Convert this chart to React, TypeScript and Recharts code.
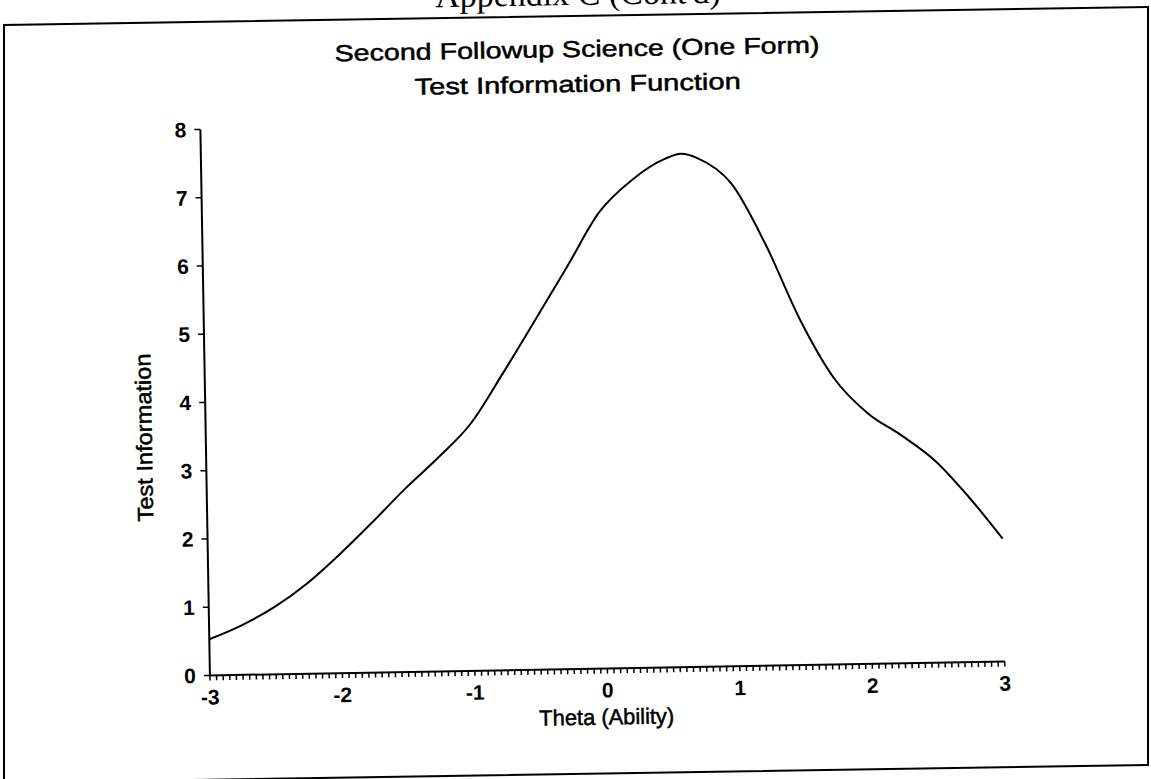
import { Line, LineChart, XAxis, YAxis } from 'recharts'

// theta (ability) and test information
const thetaValues = [
  -3, -2.75, -2.5, -2.25, -2, -1.75, -1.5, -1.25, -1, -0.75, -0.5, -0.25, 0,
  0.25, 0.5, 0.625, 0.75, 1, 1.25, 1.5, 1.75, 2, 2.25, 2.5, 2.75, 3,
]
const informationValues = [
  0.53, 0.73, 0.99, 1.33, 1.75, 2.21, 2.69, 3.13, 3.62, 4.35, 5.12, 5.9, 6.69,
  7.15, 7.45, 7.52, 7.45, 7.07, 6.17, 5.06, 4.19, 3.67, 3.34, 2.96, 2.42, 1.8,
]
const xTickLabels = [-3, -2, -1, 0, 1, 2, 3]
const yTickLabels = [0, 1, 2, 3, 4, 5, 6, 7, 8]

const chartData = thetaValues.map((theta, i) => ({ theta, info: informationValues[i] }))
// small ticks every 0.05 along the theta axis
const minorTicks = Array.from({ length: 121 }, (_, i) => Math.round((-3 + i * 0.05) * 100) / 100)

const SANS = '"Liberation Sans", Arial, sans-serif'

function ThetaTick(props: any) {
  const { x, y, payload } = props
  if (!xTickLabels.includes(payload.value)) return <g />
  return (
    <text x={x} y={y} dy={22} textAnchor="middle" fill="#000" fontSize={21} fontWeight="bold" fontFamily={SANS}>
      {payload.value}
    </text>
  )
}

export default function App() {
  return (
    <div style={{ position: 'absolute', left: 0, top: 0, width: 1151, height: 779, overflow: 'hidden', background: '#fff' }}>
      {/* page frame and running head, skewed like the scan */}
      <svg width={1151} height={779} style={{ position: 'absolute', left: 0, top: 0 }}>
        <g transform="translate(575 390) skewY(-0.9) translate(-575 -390)">
          <text x={578} y={5} textAnchor="middle" fontSize={34} fontFamily='"Liberation Serif", "Times New Roman", serif' fill="#000">
            Appendix C (Cont'd)
          </text>
          <rect x={4} y={16} width={1144} height={758} fill="none" stroke="#000" strokeWidth={2} />
        </g>
      </svg>

      <div style={{ position: 'absolute', left: 0, top: 0, width: 1151, height: 779, transform: 'rotate(-1deg)', transformOrigin: '575px 390px' }}>
        <LineChart width={1151} height={779} data={chartData} margin={{ top: 123, right: 151, bottom: 70, left: 145 }}>
          <XAxis
            dataKey="theta"
            type="number"
            domain={[-3, 3]}
            ticks={minorTicks}
            interval={0}
            tickSize={5}
            tick={<ThetaTick />}
            axisLine={{ stroke: '#000', strokeWidth: 2 }}
            tickLine={{ stroke: '#000', strokeWidth: 1.5 }}
            height={40}
          />
          <YAxis
            type="number"
            domain={[0, 8]}
            ticks={yTickLabels}
            interval={0}
            width={60}
            tickSize={6}
            tickMargin={8}
            axisLine={{ stroke: '#000', strokeWidth: 2 }}
            tickLine={{ stroke: '#000', strokeWidth: 1.5 }}
            tick={{ fill: '#000', fontSize: 21, fontWeight: 'bold', fontFamily: SANS }}
          />
          <Line type="monotone" dataKey="info" stroke="#000" strokeWidth={2} dot={false} isAnimationActive={false} />
        </LineChart>

        <svg width={1151} height={779} style={{ position: 'absolute', left: 0, top: 0, pointerEvents: 'none' }}>
          <g fontFamily={SANS} fill="#000" stroke="#000" strokeWidth={0.5} textAnchor="middle">
            <text x={583} y={57} fontSize={23} textLength={485} lengthAdjust="spacingAndGlyphs">
              Second Followup Science (One Form)
            </text>
            <text x={583} y={92} fontSize={23} textLength={326} lengthAdjust="spacingAndGlyphs">
              Test Information Function
            </text>
            <text x={601} y={725} fontSize={22} textLength={135} lengthAdjust="spacingAndGlyphs">
              Theta (Ability)
            </text>
            <text
              x={144}
              y={437}
              fontSize={22}
              textLength={168}
              lengthAdjust="spacingAndGlyphs"
              transform="rotate(-90 144 430)"
            >
              Test Information
            </text>
          </g>
        </svg>
      </div>
    </div>
  )
}
